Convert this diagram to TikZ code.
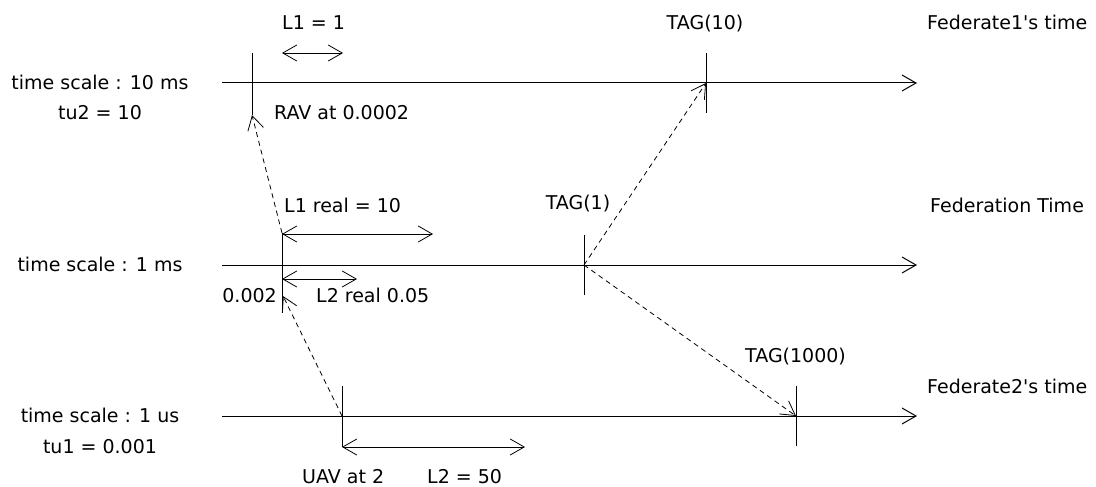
\documentclass[tikz,border=0pt]{standalone}
\usepackage{fontspec}
\setmainfont{DejaVu Sans}
\usetikzlibrary{arrows.meta}
\begin{document}
\begin{tikzpicture}[x=1pt,y=-1pt,
  every node/.style={font=\fontsize{19}{22}\selectfont, inner sep=0pt},
  tip/.style={-{Straight Barb[length=14pt,width=16pt]}},
  dtip/.style={{Straight Barb[length=14pt,width=16pt]}-{Straight Barb[length=14pt,width=16pt]}},
  axis/.style={line width=1pt, tip},
  tick/.style={line width=1pt},
  msg/.style={line width=0.8pt, dashed, dash pattern=on 5pt off 4pt, tip},
  lab/.style={anchor=base},
  labw/.style={anchor=base west},
  labe/.style={anchor=base east}]
\useasboundingbox (0,0) rectangle (1096,487);
% axes
\coordinate (a1s) at (222,83);  \coordinate (a1e) at (917,83);
\coordinate (a2s) at (222,265); \coordinate (a2e) at (917,265);
\coordinate (a3s) at (222,416); \coordinate (a3e) at (917,416);
\draw[axis] (a1s) -- (a1e);
\draw[axis] (a2s) -- (a2e);
\draw[axis] (a3s) -- (a3e);
% ticks
\coordinate (rav) at (252,83);  \coordinate (rav1) at (252,53);  \coordinate (rav2) at (252,115);
\coordinate (t10) at (706,83);  \coordinate (t10a) at (706,53);  \coordinate (t10b) at (706,113);
\coordinate (m0) at (282,265);  \coordinate (m0a) at (282,233);  \coordinate (m0b) at (282,312);
\coordinate (t1) at (584,265);  \coordinate (t1a) at (584,235);  \coordinate (t1b) at (584,295);
\coordinate (uav) at (342,416); \coordinate (uava) at (342,386); \coordinate (uavb) at (342,447);
\coordinate (t1000) at (796,416); \coordinate (t1000a) at (796,386); \coordinate (t1000b) at (796,446);
\draw[tick] (rav1) -- (rav2);
\draw[tick] (t10a) -- (t10b);
\draw[tick] (m0a) -- (m0b);
\draw[tick] (t1a) -- (t1b);
\draw[tick] (uava) -- (uavb);
\draw[tick] (t1000a) -- (t1000b);
% double arrows
\coordinate (l1a) at (282,53);  \coordinate (l1b) at (343,53);
\coordinate (l1ra) at (282,234); \coordinate (l1rb) at (433,234);
\coordinate (l2ra) at (282,279); \coordinate (l2rb) at (357,279);
\coordinate (l2a) at (342,447); \coordinate (l2b) at (525,447);
\draw[line width=0.8pt, dtip] (l1a) -- (l1b);
\draw[line width=0.8pt, dtip] (l1ra) -- (l1rb);
\draw[line width=0.8pt, dtip] (l2ra) -- (l2rb);
\draw[line width=0.8pt, dtip] (l2a) -- (l2b);
% messages
\coordinate (m0c) at (283,296);
\draw[msg] (uav) -- (m0c);
\draw[msg] (m0a) -- (rav2);
\draw[msg] (t1) -- (t10);
\draw[msg] (t1) -- (t1000);
% labels
\node[lab] (ts1) at (100,90) {time scale : 10 ms};
\node[lab] (tu2) at (100,120) {tu2 = 10};
\node[lab] (ts2) at (100,271) {time scale : 1 ms};
\node[lab] (ts3) at (100,422) {time scale : 1 us};
\node[lab] (tu1) at (100,453) {tu1 = 0.001};
\node[labw] (L1) at (282,30) {L1 = 1};
\node[labw] (ravl) at (274,120) {RAV at 0.0002};
\node[labw] (l1r) at (284,212) {L1 real = 10};
\node[lab] (tag1) at (578,209) {TAG(1)};
\node[labe] (z002) at (277,302) {0.002};
\node[labw] (l2r) at (316,302) {L2 real 0.05};
\node[labw] (uavl) at (302,483) {UAV at 2};
\node[labw] (l2l) at (427,483) {L2 = 50};
\node[lab] (tag10) at (705,30) {TAG(10)};
\node[labw] (tag1000) at (745,362) {TAG(1000)};
\node[labw] (f1) at (927,30) {Federate1\textquotesingle s time};
\node[labw] (fed) at (930,212) {Federation Time};
\node[labw] (f2) at (927,393) {Federate2\textquotesingle s time};
\end{tikzpicture}
\end{document}
